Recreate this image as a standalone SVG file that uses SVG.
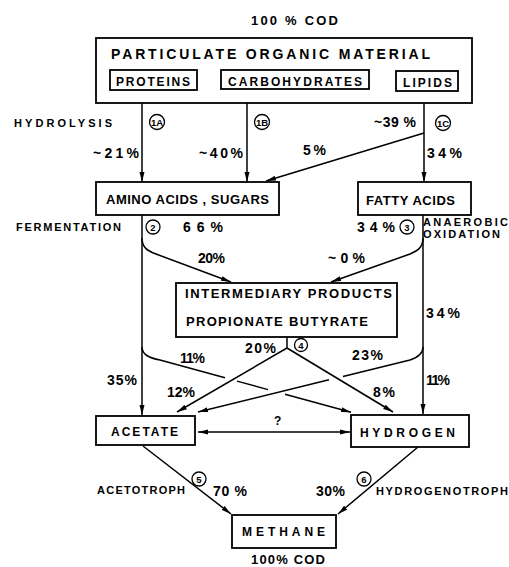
<svg xmlns="http://www.w3.org/2000/svg" width="509" height="567" viewBox="0 0 509 567">
<defs>
<marker id="ah" markerUnits="userSpaceOnUse" markerWidth="10" markerHeight="6" refX="10" refY="3" orient="auto-start-reverse">
<path d="M0,0.5 L10,3 L0,5.5 z" fill="#000"/>
</marker>
<style>
text{font-family:"Liberation Sans",Arial,sans-serif;font-weight:bold;fill:#000}
.t14{font-size:14px}
.t13{font-size:13px}
.t12{font-size:12px}
.t11{font-size:11px}
.p{font-size:14px}
.c{font-size:9.5px;text-anchor:middle}
.box{fill:#fff;stroke:#000;stroke-width:1.8}
circle{fill:none;stroke:#000;stroke-width:1.3}
.ln{fill:none;stroke:#000;stroke-width:1.5}
.ar{marker-end:url(#ah)}
</style>
</defs>
<rect width="509" height="567" style="fill:#fff;stroke:none"/>

<g id="connectors">
<line class="ln ar" x1="142" y1="90" x2="142" y2="182"/>
<line class="ln ar" x1="247" y1="89" x2="247" y2="182"/>
<line class="ln ar" x1="424" y1="91" x2="424" y2="182"/>
<line class="ln ar" x1="424" y1="133" x2="266" y2="181"/>
<line class="ln ar" x1="142" y1="215" x2="142" y2="415"/>
<line class="ln ar" x1="423" y1="215" x2="423" y2="414"/>
<path class="ln ar" d="M142,238 C142,248 148,251 156,254 L231,282"/>
<path class="ln ar" d="M423,238 C423,248 417,251 410,254 L331,282"/>
<path class="ln" d="M142,347 C142,355 150,358 160,360 L225,377.8 M237,381.1 L268,389.6"/>
<path class="ln ar" d="M285,394.2 L351,412.3"/>
<path class="ln" d="M423,347 C423,355 416,358 410,360 L343,376.4"/>
<path class="ln ar" d="M329,379.8 L198,412"/>
<line class="ln" x1="287" y1="337" x2="287" y2="348"/>
<line class="ln ar" x1="287" y1="348" x2="177" y2="412"/>
<line class="ln ar" x1="287" y1="348" x2="393" y2="412"/>
<line class="ln ar" x1="198" y1="432" x2="350" y2="432" marker-start="url(#ah)"/>
<line class="ln ar" x1="143" y1="446" x2="231" y2="514"/>
<line class="ln ar" x1="418" y1="447" x2="338" y2="514"/>
</g>

<g id="particulate">
<rect class="box" x="96" y="38" width="376" height="65"/>
<text class="t14" x="111" y="59" textLength="319" lengthAdjust="spacing">PARTICULATE ORGANIC MATERIAL</text>
</g>
<g id="proteins">
<rect class="box" x="110" y="70" width="87" height="20"/>
<text class="t12" x="116" y="86" textLength="74" lengthAdjust="spacing">PROTEINS</text>
</g>
<g id="carbohydrates">
<rect class="box" x="221" y="70" width="148" height="19"/>
<text class="t12" x="228" y="86" textLength="134" lengthAdjust="spacing">CARBOHYDRATES</text>
</g>
<g id="lipids">
<rect class="box" x="396" y="71" width="62" height="20"/>
<text class="t12" x="403" y="87" textLength="49" lengthAdjust="spacing">LIPIDS</text>
</g>
<g id="amino">
<rect class="box" x="96" y="182" width="183" height="33"/>
<text class="t13" x="106" y="204" textLength="163" lengthAdjust="spacing">AMINO ACIDS , SUGARS</text>
</g>
<g id="fatty">
<rect class="box" x="358" y="182" width="113" height="33"/>
<text class="t13" x="366" y="205" textLength="89" lengthAdjust="spacing">FATTY ACIDS</text>
</g>
<g id="intermediary">
<rect class="box" x="176" y="283" width="221" height="54"/>
<text class="t13" x="185" y="298" textLength="207" lengthAdjust="spacing">INTERMEDIARY PRODUCTS</text>
<text class="t13" x="186" y="326" textLength="182" lengthAdjust="spacing">PROPIONATE BUTYRATE</text>
</g>
<g id="acetate">
<rect class="box" x="96" y="416" width="99" height="29"/>
<text class="t12" x="111" y="436" textLength="67" lengthAdjust="spacing">ACETATE</text>
</g>
<g id="hydrogen">
<rect class="box" x="351" y="415" width="118" height="32"/>
<text class="t12" x="360" y="437" textLength="95" lengthAdjust="spacing">HYDROGEN</text>
</g>
<g id="methane">
<rect class="box" x="232" y="515" width="104" height="33"/>
<text class="t12" x="242" y="536" textLength="83" lengthAdjust="spacing">METHANE</text>
</g>

<g id="labels">
<text class="t13" x="251" y="25" textLength="87" lengthAdjust="spacing">100 % COD</text>
<text class="t11" x="14" y="127" textLength="98" lengthAdjust="spacing">HYDROLYSIS</text>
<circle cx="157" cy="122" r="7.5"/><text class="c" x="157" y="125.5">1A</text>
<circle cx="262" cy="122" r="7.5"/><text class="c" x="262" y="125.5">1B</text>
<circle cx="443" cy="123" r="7.5"/><text class="c" x="443" y="126.5">1C</text>
<text class="p" x="374" y="127" textLength="42" lengthAdjust="spacing">~39 %</text>
<text class="p" x="93" y="158" textLength="46" lengthAdjust="spacing">~21%</text>
<text class="p" x="199" y="158" textLength="44" lengthAdjust="spacing">~40%</text>
<text class="p" x="303" y="155" textLength="23" lengthAdjust="spacing">5%</text>
<text class="p" x="427" y="158" textLength="35" lengthAdjust="spacing">34%</text>
<text class="t11" x="16" y="231" textLength="105" lengthAdjust="spacing">FERMENTATION</text>
<circle cx="153" cy="227" r="7"/><text class="c" x="153" y="230.5">2</text>
<text class="p" x="183" y="232" textLength="40" lengthAdjust="spacing">66%</text>
<text class="p" x="357" y="232" textLength="38" lengthAdjust="spacing">34%</text>
<circle cx="407" cy="227" r="7"/><text class="c" x="407" y="230.5">3</text>
<text class="t11" x="423" y="226" textLength="85" lengthAdjust="spacing">ANAEROBIC</text>
<text class="t11" x="423" y="238" textLength="77" lengthAdjust="spacing">OXIDATION</text>
<text class="p" x="198" y="263" textLength="27" lengthAdjust="spacing">20%</text>
<text class="p" x="328" y="263" textLength="37" lengthAdjust="spacing">~0%</text>
<text class="p" x="426" y="318" textLength="34" lengthAdjust="spacing">34%</text>
<text class="p" x="245" y="353" textLength="31" lengthAdjust="spacing">20%</text>
<circle cx="301" cy="345" r="6.5"/><text class="c" x="301" y="348.5">4</text>
<text class="p" x="180" y="363" textLength="25" lengthAdjust="spacing">11%</text>
<text class="p" x="352" y="360" textLength="31" lengthAdjust="spacing">23%</text>
<text class="p" x="107" y="385" textLength="30" lengthAdjust="spacing">35%</text>
<text class="p" x="167" y="397" textLength="28" lengthAdjust="spacing">12%</text>
<text class="p" x="373" y="397" textLength="22" lengthAdjust="spacing">8%</text>
<text class="p" x="426" y="385" textLength="24" lengthAdjust="spacing">11%</text>
<text class="t12" x="274" y="425">?</text>
<circle cx="199" cy="479" r="7"/><text class="c" x="199" y="482.5">5</text>
<circle cx="364" cy="479" r="7"/><text class="c" x="364" y="482.5">6</text>
<text class="t11" x="97" y="494" textLength="88" lengthAdjust="spacing">ACETOTROPH</text>
<text class="p" x="213" y="496" textLength="34" lengthAdjust="spacing">70 %</text>
<text class="p" x="316" y="496" textLength="29" lengthAdjust="spacing">30%</text>
<text class="t11" x="376" y="495" textLength="132" lengthAdjust="spacing">HYDROGENOTROPH</text>
<text class="t13" x="251" y="564" textLength="74" lengthAdjust="spacing">100% COD</text>
</g>
</svg>
